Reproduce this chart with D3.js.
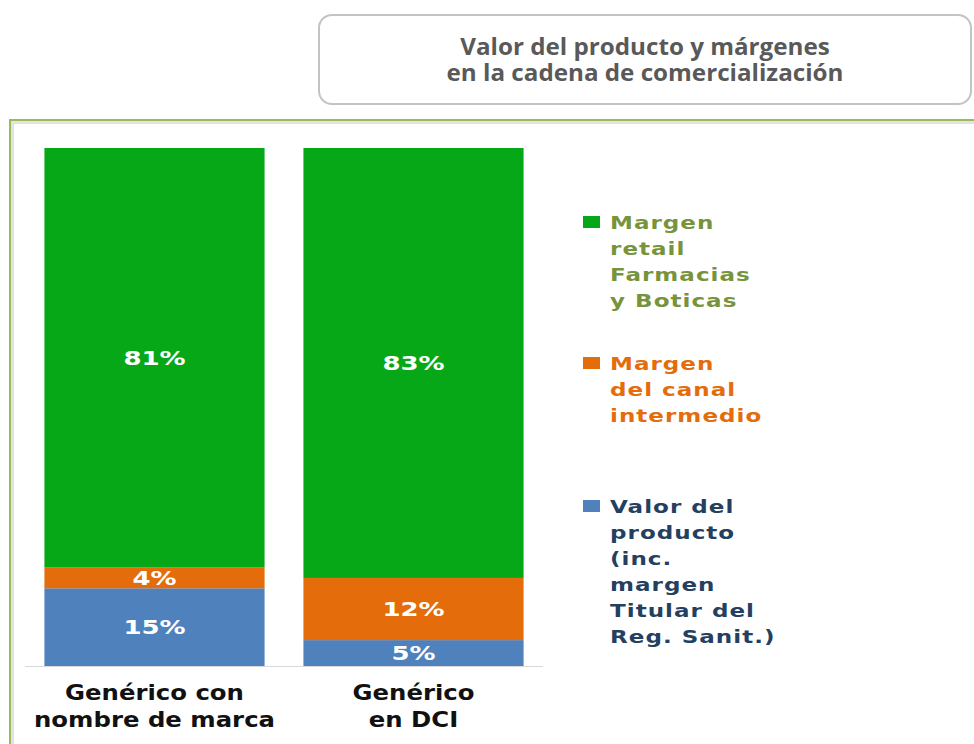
<!DOCTYPE html>
<html>
<head>
<meta charset="utf-8">
<script src="https://cdn.jsdelivr.net/npm/d3@7"></script>
<style>
  body { margin: 0; background: #fff; }
  svg { display: block; }
</style>
</head>
<body>
<script>
// Chart data
const categories = [["Genérico con", "nombre de marca"], ["Genérico", "en DCI"]];
const seriesKeys = ["valor", "canal", "retail"];
const valorProducto = [15, 5];
const margenCanal = [4, 12];
const margenRetail = [81, 83];
const legendLabels = [
  ["Margen", "retail", "Farmacias", "y Boticas"],
  ["Margen", "del canal", "intermedio"],
  ["Valor del", "producto", "(inc.", "margen", "Titular del", "Reg. Sanit.)"]
];
const titleLines = ["Valor del producto y márgenes", "en la cadena de comercialización"];

const width = 974, height = 744;
const svg = d3.select("body").append("svg")
    .attr("width", width)
    .attr("height", height);

// title box
svg.append("rect")
    .attr("x", 319).attr("y", 15)
    .attr("width", 652).attr("height", 89)
    .attr("rx", 13)
    .attr("fill", "#fff")
    .attr("stroke", "#c3c3c3")
    .attr("stroke-width", 2);

svg.append("text")
    .attr("transform", "translate(645,55) scale(1.03,1)")
    .attr("text-anchor", "middle")
    .attr("font-family", "'Open Sans', sans-serif")
    .attr("font-weight", "bold")
    .attr("font-size", 23.5)
    .attr("fill", "#595959")
  .selectAll("tspan")
  .data(titleLines)
  .join("tspan")
    .attr("x", 0)
    .attr("y", (d, i) => i * 26)
    .text(d => d);

// frame with shadow
svg.append("path")
    .attr("d", "M12.5,744 V122.5 H974")
    .attr("fill", "none")
    .attr("stroke", "#e2e2e2")
    .attr("stroke-width", 3);
svg.append("path")
    .attr("d", "M10,744 V120 H974")
    .attr("fill", "none")
    .attr("stroke", "#9bbb59")
    .attr("stroke-width", 2);

// scales
const x = d3.scaleBand()
    .domain(d3.range(categories.length))
    .range([25, 543])
    .paddingInner(0.15)
    .paddingOuter(0.075);

const y = d3.scaleLinear()
    .domain([0, 100])
    .range([666, 148]);

const color = d3.scaleOrdinal()
    .domain(seriesKeys)
    .range(["#4f81bd", "#e46c0a", "#06a818"]);

const rows = categories.map((c, i) => ({
  i,
  valor: valorProducto[i],
  canal: margenCanal[i],
  retail: margenRetail[i]
}));

const stacked = d3.stack().keys(seriesKeys)(rows);

const layers = svg.append("g").selectAll("g")
  .data(stacked)
  .join("g")
    .attr("fill", d => color(d.key));

layers.selectAll("rect")
  .data(d => d)
  .join("rect")
    .attr("x", d => x(d.data.i))
    .attr("y", d => y(d[1]))
    .attr("width", x.bandwidth())
    .attr("height", d => y(d[0]) - y(d[1]));

// value labels (the source is stretched horizontally)
layers.selectAll("text")
  .data(d => d)
  .join("text")
    .attr("transform", d => `translate(${x(d.data.i) + x.bandwidth() / 2},${(y(d[0]) + y(d[1])) / 2}) scale(1.3,1)`)
    .attr("dy", "0.36em")
    .attr("text-anchor", "middle")
    .attr("font-family", "'DejaVu Sans', sans-serif")
    .attr("font-weight", "bold")
    .attr("font-size", 20)
    .attr("fill", "#fff")
    .text(d => (d[1] - d[0]) + "%");

// baseline
svg.append("line")
    .attr("x1", 25).attr("x2", 543)
    .attr("y1", y(0) + 0.5).attr("y2", y(0) + 0.5)
    .attr("stroke", "#d9d9d9");

// category labels
const catG = svg.append("g").selectAll("text")
  .data(categories)
  .join("text")
    .attr("transform", (d, i) => `translate(${x(i) + x.bandwidth() / 2},700) scale(1.16,1)`)
    .attr("text-anchor", "middle")
    .attr("font-family", "'DejaVu Sans', sans-serif")
    .attr("font-weight", "bold")
    .attr("font-size", 21)
    .attr("fill", "#111");
catG.selectAll("tspan")
  .data(d => d)
  .join("tspan")
    .attr("x", 0)
    .attr("y", (d, j) => j * 27)
    .text(d => d);

// legend
const legendTop = [222, 363, 506];
const legendText = ["#77933c", "#e46c0a", "#243f60"];
const legendKeys = ["retail", "canal", "valor"];

const leg = svg.append("g").selectAll("g")
  .data(legendKeys)
  .join("g")
    .attr("transform", (d, i) => `translate(583,${legendTop[i]})`);

leg.append("rect")
    .attr("x", 0).attr("y", -6)
    .attr("width", 17).attr("height", 12)
    .attr("fill", d => color(d));

leg.append("text")
    .attr("transform", "translate(27,0) scale(1.28,1)")
    .attr("font-family", "'DejaVu Sans', sans-serif")
    .attr("font-weight", "bold")
    .attr("font-size", 18)
    .attr("letter-spacing", 0.8)
    .attr("fill", (d, i) => legendText[i])
  .selectAll("tspan")
  .data((d, i) => legendLabels[i])
  .join("tspan")
    .attr("x", 0)
    .attr("y", (d, j) => 7 + j * 26)
    .text(d => d);
</script>
</body>
</html>
